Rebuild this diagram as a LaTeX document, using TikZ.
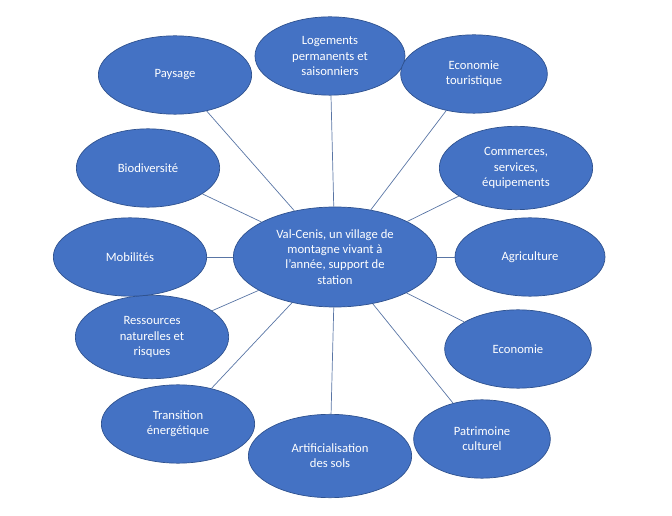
\documentclass[tikz,border=0pt]{standalone}
\usepackage{fontspec}
\setmainfont{Carlito}
\usetikzlibrary{shapes.geometric, positioning, calc}
\definecolor{bluefill}{HTML}{4472C4}
\definecolor{blueline}{HTML}{2F528F}
\begin{document}
\begin{tikzpicture}[
      x=0.03cm, y=-0.03cm,
      theme/.style={ellipse, draw=blueline, line width=0.6pt, fill=bluefill, text=white,
        font=\fontsize{10.8}{13}\selectfont, align=center, inner sep=0pt},
      link/.style={draw=blueline!80, line width=0.6pt}
    ]
    \useasboundingbox (0,0) rectangle (672,516);

    % Noeud central
    \node[theme, minimum width=6.1cm, minimum height=3cm] (VC) at (335,257)
      {Val-Cenis, un village de\\montagne vivant à\\l'année, support de\\station};

    % Thèmes autour
    \node[theme, minimum width=4.5cm, minimum height=2.35cm] (LOG) at (330,56) {Logements\\permanents et\\saisonniers};
    \node[theme, minimum width=4.4cm, minimum height=2.35cm] (ECT) at (474,74) {Economie\\touristique};
    \node[theme, minimum width=4.6cm, minimum height=2.5cm] (COM) at (516,168) {Commerces,\\services,\\équipements};
    \node[theme, minimum width=4.5cm, minimum height=2.35cm] (AGR) at (530,257) {Agriculture};
    \node[theme, minimum width=4.4cm, minimum height=2.35cm] (ECO) at (518,349) {Economie};
    \node[theme, minimum width=4.1cm, minimum height=2.35cm] (PAT) at (482,439) {Patrimoine\\culturel};
    \node[theme, minimum width=4.9cm, minimum height=2.5cm] (ART) at (330,456) {Artificialisation\\des sols};
    \node[theme, minimum width=4.6cm, minimum height=2.35cm] (TRA) at (178,424) {Transition\\énergétique};
    \node[theme, minimum width=4.6cm, minimum height=2.5cm] (RES) at (152,337) {Ressources\\naturelles et\\risques};
    \node[theme, minimum width=4.6cm, minimum height=2.35cm] (MOB) at (130,257) {Mobilités};
    \node[theme, minimum width=4.3cm, minimum height=2.35cm] (BIO) at (148,168) {Biodiversité};
    \node[theme, minimum width=4.6cm, minimum height=2.35cm] (PAY) at (175,75) {Paysage};

    % Liens
    \foreach \t in {LOG, ECT, COM, AGR, ECO, PAT, ART, TRA, RES, MOB, BIO, PAY}
      \draw[link] (VC) -- (\t);
\end{tikzpicture}
\end{document}
